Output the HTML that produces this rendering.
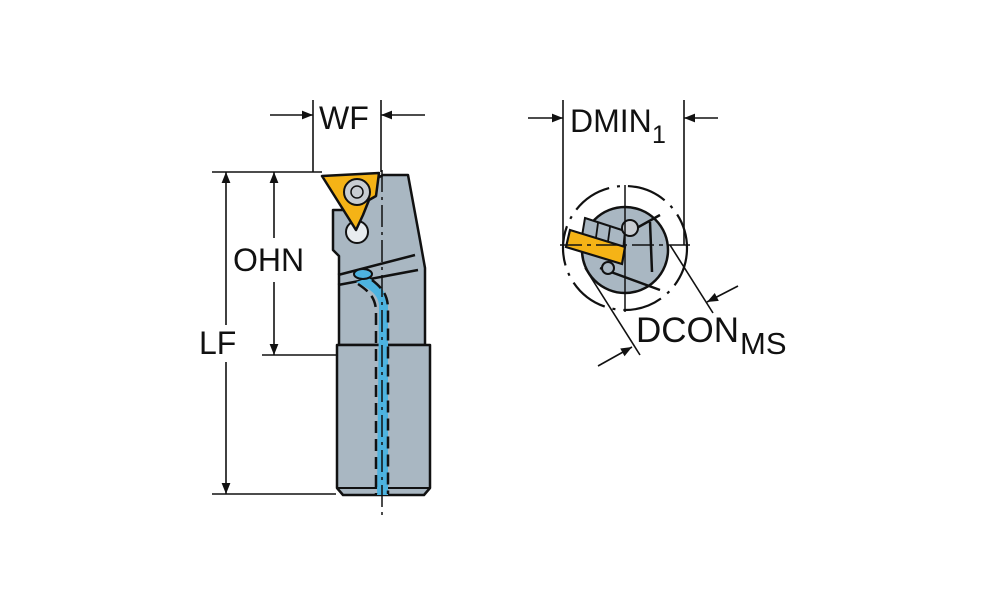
<!DOCTYPE html>
<html><head><meta charset="utf-8"><style>
html,body{margin:0;padding:0;background:#fff}
svg{display:block}
text{font-family:"Liberation Sans",sans-serif;fill:#111}
</style></head><body>
<svg width="1000" height="611" viewBox="0 0 1000 611" xmlns="http://www.w3.org/2000/svg">
<defs>
<marker id="a" viewBox="0 0 10 10" refX="10" refY="5" markerWidth="14" markerHeight="11" orient="auto-start-reverse" markerUnits="userSpaceOnUse"><path d="M0,1 L10,5 L0,9 Z" fill="#111"/></marker>
</defs>
<g stroke="#111" stroke-width="1.6" fill="none">
<line x1="313" y1="100" x2="313" y2="172"/>
<line x1="381" y1="100" x2="381" y2="172"/>
<line x1="270" y1="115" x2="313" y2="115" marker-end="url(#a)"/>
<line x1="425" y1="115" x2="381" y2="115" marker-end="url(#a)"/>
<line x1="212" y1="172" x2="322" y2="172"/>
<line x1="212" y1="494" x2="336" y2="494"/>
<line x1="226" y1="172" x2="226" y2="325" marker-start="url(#a)"/>
<line x1="226" y1="362" x2="226" y2="494" marker-end="url(#a)"/>
<line x1="262" y1="355" x2="338" y2="355"/>
<line x1="274" y1="172" x2="274" y2="238" marker-start="url(#a)"/>
<line x1="274" y1="282" x2="274" y2="355" marker-end="url(#a)"/>
</g>
<path d="M333,210 L333,250 L339,256 L339,345 L425,345 L425,268 L420,240 L408,175 L383,175 L345,196 L345,210 Z" fill="#a9b7c2" stroke="#111" stroke-width="2.5" stroke-linejoin="round"/>
<path d="M337,345 L430,345 L430,488 L424,495 L343,495 L337,488 Z" fill="#a9b7c2" stroke="#111" stroke-width="2.5" stroke-linejoin="round"/>
<line x1="337" y1="488" x2="430" y2="488" stroke="#111" stroke-width="2"/>
<path d="M338,275 L415,255 M338,285 L418,270" stroke="#111" stroke-width="2.5"/>
<path d="M356,282 C372,290 378,295 379,305 L377,495 L388,495 L388,305 C386,290 378,282 368,278 Z" fill="#4db3e0" stroke="none"/>
<ellipse cx="363" cy="274" rx="9" ry="5" fill="#4db3e0" stroke="#111" stroke-width="2"/>
<g stroke="#111" stroke-width="2.5" stroke-dasharray="12,6">
<path d="M358,284 C370,292 375,298 376,310 L376,494" fill="none"/>
<path d="M372,280 C385,290 388,298 388,310 L388,494" fill="none"/>
</g>
<line x1="382" y1="170" x2="382" y2="516" stroke="#111" stroke-width="1.5" stroke-dasharray="22,5,3,5"/>
<circle cx="357" cy="232" r="11" fill="#e8ecef" stroke="#111" stroke-width="2"/>
<path d="M322,176 L379,173 L376,196 L369,200 L363,215 L356,230 Z" fill="#f5b316" stroke="#111" stroke-width="2.5" stroke-linejoin="round"/>
<circle cx="357" cy="192" r="13" fill="#c8cdd2" stroke="#111" stroke-width="2"/>
<circle cx="357" cy="192" r="6" fill="none" stroke="#111" stroke-width="1.5"/>
<text x="319" y="129" font-size="32">WF</text>
<text x="233" y="271" font-size="32">OHN</text>
<text x="199" y="354" font-size="32">LF</text>

<g stroke="#111" stroke-width="1.6" fill="none">
<line x1="563" y1="100" x2="563" y2="245"/>
<line x1="684" y1="100" x2="684" y2="245"/>
<line x1="528" y1="118" x2="563" y2="118" marker-end="url(#a)"/>
<line x1="718" y1="118" x2="684" y2="118" marker-end="url(#a)"/>
<circle cx="625" cy="248" r="62" stroke-width="2.2" stroke-dasharray="40,8,3,8"/>
<line x1="585" y1="268" x2="640" y2="355"/>
<line x1="670" y1="245" x2="713" y2="313"/>
<line x1="598" y1="366" x2="632" y2="347" marker-end="url(#a)"/>
<line x1="738" y1="286" x2="707" y2="302" marker-end="url(#a)"/>
</g>
<circle cx="625" cy="250" r="43" fill="#a9b7c2" stroke="#111" stroke-width="2.5"/>
<path d="M615,240 L660,215 M650,222 L652,272 M600,268 L660,290" stroke="#111" stroke-width="2.5" fill="none"/>
<circle cx="608" cy="268" r="6" fill="#a9b7c2" stroke="#111" stroke-width="2"/>
<path d="M585,218 L625,231 L622,262 L580,248 Z" fill="#a9b7c2" stroke="#111" stroke-width="2"/>
<path d="M598,223 L594,252 M610,227 L606,256" stroke="#111" stroke-width="1.8"/>
<path d="M570,230 L625,247 L622,264 L566,247 Z" fill="#f5b316" stroke="#111" stroke-width="2.2"/>
<circle cx="630" cy="228" r="8" fill="#c8cdd2" stroke="#111" stroke-width="2"/>
<line x1="625" y1="185" x2="625" y2="312" stroke="#111" stroke-width="1.5"/>
<line x1="560" y1="245" x2="690" y2="245" stroke="#111" stroke-width="1.5" stroke-dasharray="22,5,4,5"/>
<text x="570" y="132" font-size="32">DMIN</text>
<text x="652" y="143" font-size="25">1</text>
<text x="636" y="342" font-size="35">DCON</text>
<text x="740" y="354" font-size="31">MS</text>
</svg>
</body></html>
